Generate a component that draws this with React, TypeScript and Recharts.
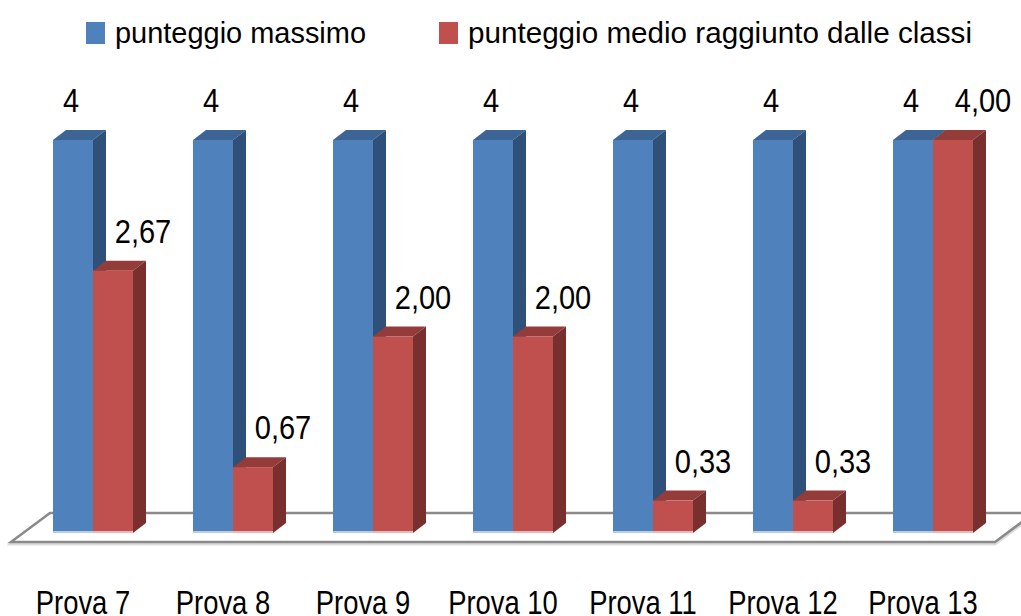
import { BarChart, Bar, XAxis, YAxis, Legend, LabelList, Customized, usePlotArea } from "recharts";

const categories = ["Prova 7", "Prova 8", "Prova 9", "Prova 10", "Prova 11", "Prova 12", "Prova 13"];
const maxScores = [4, 4, 4, 4, 4, 4, 4];
const avgScores = [2.67, 0.67, 2.0, 2.0, 0.33, 0.33, 4.0];
const seriesNames = ["punteggio massimo", "punteggio medio raggiunto dalle classi"];

const data = categories.map((name, i) => ({
  name,
  max: maxScores[i],
  avg: avgScores[i],
}));

const FONT = "'Liberation Sans', Arial, sans-serif";
const DX = 13;
const DY = 10;
const LEGEND_H = 60;

const BLUE = { front: "#4f81bd", top: "#3c6595", side: "#2f5179", edge: "#b9cde5" };
const RED = { front: "#c0504d", top: "#943c3a", side: "#792f2e", edge: "#e6b9b8" };

const makeBar3D = (c: typeof BLUE) => (props: any) => {
  const { x, y, width, height } = props;
  if (!height || height <= 0) return <g />;
  return (
    <g>
      <polygon
        points={`${x},${y} ${x + DX},${y - DY} ${x + width + DX},${y - DY} ${x + width},${y}`}
        fill={c.top}
      />
      <polygon
        points={`${x + width},${y} ${x + width + DX},${y - DY} ${x + width + DX},${y + height - DY} ${x + width},${y + height}`}
        fill={c.side}
      />
      <rect x={x} y={y} width={width} height={height} fill={c.front} />
      <rect x={x} y={y + height - 2} width={width} height={2} fill={c.edge} />
    </g>
  );
};

const valueLabel = (dx: number, fmt: (v: number) => string) => (props: any) => {
  const { x, y, width, value } = props;
  const cx = x + width / 2 + dx;
  return (
    <text
      transform={`translate(${cx},${y - 28}) scale(0.88,1)`}
      textAnchor="middle"
      fontFamily={FONT}
      fontSize={33}
      fill="#000"
    >
      {fmt(Number(value))}
    </text>
  );
};

const CategoryTick = (props: any) => {
  const { x, y, payload } = props;
  return (
    <text
      transform={`translate(${x - 10},${y + 81}) scale(0.83,1)`}
      textAnchor="middle"
      fontFamily={FONT}
      fontSize={33}
      fill="#000"
    >
      {payload.value}
    </text>
  );
};

// floor of the 3D plot
const Floor = () => {
  const area = usePlotArea();
  if (!area) return null;
  const bottom = area.y + area.height;
  const l = area.x;
  const r = area.x + area.width;
  const front = bottom + 9;
  const back = bottom - 20;
  const pts = `${l - 12},${front} ${l + 27},${back} ${r + 31},${back} ${r - 8},${front}`;
  return (
    <g>
      <polygon points={pts} transform="translate(0,2)" fill="none" stroke="#dcdcdc" strokeWidth={3} />
      <polygon points={pts} fill="#fff" stroke="#8a8a8a" strokeWidth={2.5} />
    </g>
  );
};

const legendX = [86, 439];
const legendW = [251, 504];

const LegendContent = (props: any) => {
  const payload = props.payload || [];
  return (
    <svg width={1021} height={LEGEND_H} style={{ display: "block" }}>
      {payload.map((p: any, i: number) => (
        <g key={i}>
          <rect x={legendX[i]} y={22} width={19} height={22} fill={p.color} />
          <text
            x={legendX[i] + 29}
            y={43}
            fontFamily={FONT}
            fontSize={29}
            fill="#000"
            textLength={legendW[i]}
            lengthAdjust="spacingAndGlyphs"
          >
            {p.value}
          </text>
        </g>
      ))}
    </svg>
  );
};

export default function App() {
  return (
    <div style={{ width: 1021, height: 616, background: "#fff" }}>
      <style>{"body{margin:0;overflow:hidden}"}</style>
      <BarChart
        width={1021}
        height={616}
        data={data}
        margin={{ top: 140 - LEGEND_H, right: 18, left: 23, bottom: 0 }}
        barGap={0}
      >
        <XAxis
          dataKey="name"
          height={83}
          axisLine={false}
          tickLine={false}
          tickSize={0}
          tickMargin={0}
          interval={0}
          tick={<CategoryTick />}
        />
        <YAxis hide domain={[0, 4]} />
        <Legend
          layout="vertical"
          align="center"
          verticalAlign="top"
          wrapperStyle={{ top: 0, left: 0, width: 1021 }}
          content={<LegendContent />}
        />
        <Customized component={<Floor />} />
        <Bar
          dataKey="max"
          name={seriesNames[0]}
          fill={BLUE.front}
          barSize={40}
          shape={makeBar3D(BLUE)}
          isAnimationActive={false}
        >
          <LabelList dataKey="max" content={valueLabel(-2, (v) => String(v))} />
        </Bar>
        <Bar
          dataKey="avg"
          name={seriesNames[1]}
          fill={RED.front}
          barSize={40}
          shape={makeBar3D(RED)}
          isAnimationActive={false}
        >
          <LabelList dataKey="avg" content={valueLabel(30, (v) => v.toFixed(2).replace(".", ","))} />
        </Bar>
      </BarChart>
    </div>
  );
}
